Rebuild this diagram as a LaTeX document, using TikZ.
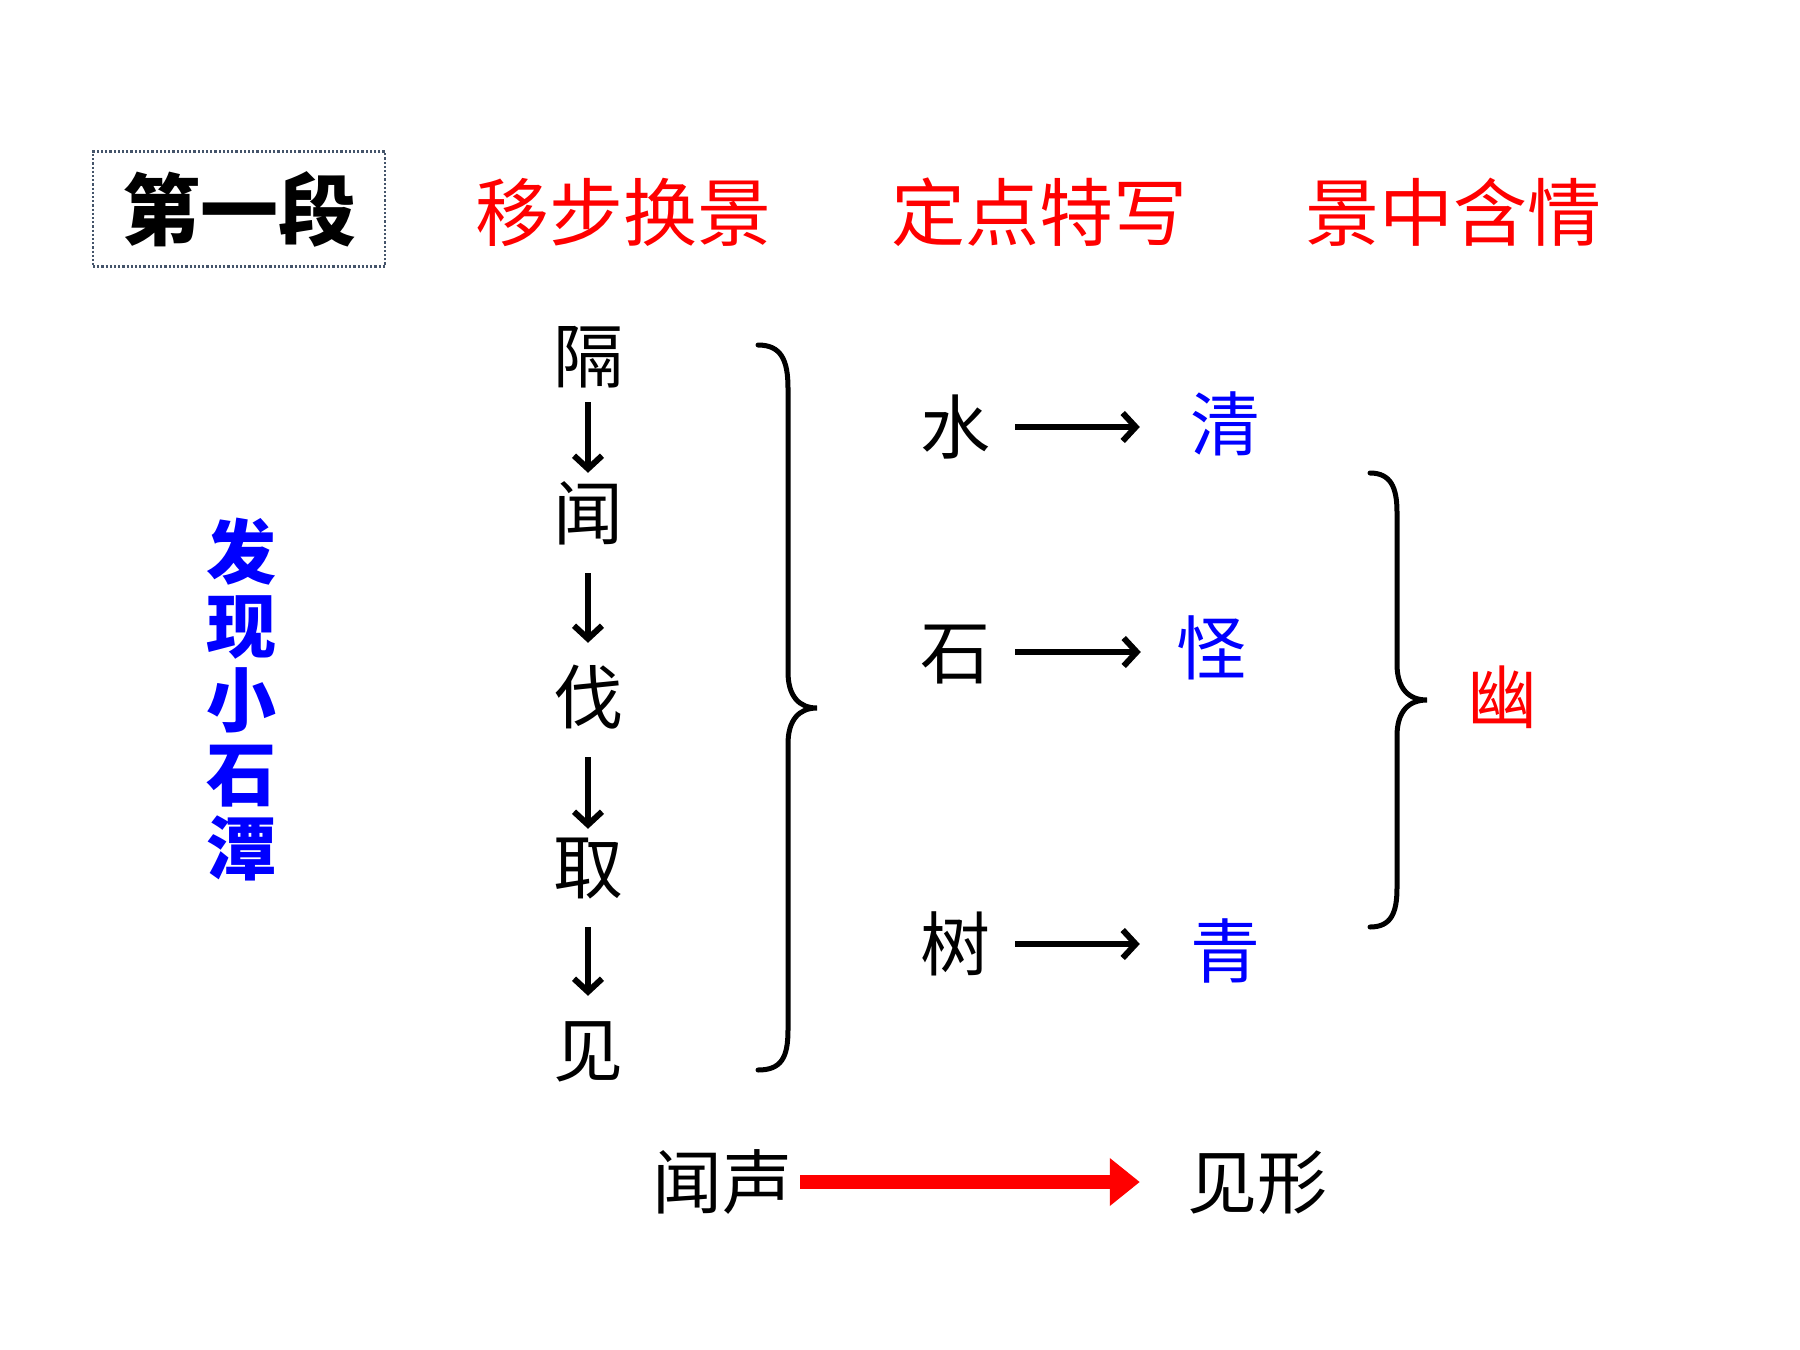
\documentclass[tikz,border=0pt]{standalone}
\usepackage{fontspec}
\setmainfont{Noto Sans CJK SC}
\usetikzlibrary{arrows.meta}
\definecolor{boxline}{HTML}{44546A}
\tikzset{
  cj/.style={inner sep=0pt, text height=61.6pt, text depth=8.4pt, font=\fontsize{70}{70}\selectfont},
  ttl/.style={inner sep=0pt, text height=65pt, text depth=9pt, font=\fontsize{74}{74}\selectfont, text=red},
  blu/.style={cj, text=blue},
  arr/.style={line width=6pt, -{Straight Barb[length=13pt,width=28pt,line width=6pt]}},
  brace/.style={line width=5pt, line cap=round},
  bigarr/.style={red, line width=14pt, -{Triangle[length=30pt,width=46pt]}}
}
\begin{document}
\begin{tikzpicture}[x=1pt,y=-1pt]
\useasboundingbox (0,0) rectangle (1800,1350);
% title row
\node[draw=boxline, dotted, line width=2.2pt, minimum width=292pt, minimum height=115pt, inner sep=0pt,
      font=\fontsize{78}{78}\selectfont\bfseries] (duan) at (239,209) {第一段};
\node[ttl] (t1) at (623,212) {移步换景};
\node[ttl] (t2) at (1039,212) {定点特写};
\node[ttl] (t3) at (1453,212) {景中含情};
% vertical blue text
\node[inner sep=0pt, align=center, text=blue, font=\fontsize{70}{74}\selectfont\bfseries] (fx) at (241,700) {发\\现\\小\\石\\潭};
% column
\node[cj] (ge) at (588,356) {隔};
\node[cj] (wen) at (588,513) {闻};
\node[cj] (fa) at (588,697) {伐};
\node[cj] (qu) at (588,867) {取};
\node[cj] (jian) at (588,1050) {见};
\draw[arr, shorten <=11pt, shorten >=5pt] (ge) -- (wen);
\draw[arr, shorten <=25pt, shorten >=19pt] (wen) -- (fa);
\draw[arr, shorten <=25pt, shorten >=3pt] (fa) -- (qu);
\draw[arr, shorten <=25pt, shorten >=19pt] (qu) -- (jian);
% first brace
\coordinate (b1) at (817,708);
\draw[brace] (758,345) .. controls (781,345) and (788,360) .. (788,388) -- (788,672)
  .. controls (788,696) and (799,708) .. (b1)
  .. controls (799,708) and (788,720) .. (788,744) -- (788,1030)
  .. controls (788,1058) and (781,1070) .. (758,1070);
% right column
\node[cj] (shui) at (955,427) {水};
\node[cj] (shi) at (955,652) {石};
\node[cj] (shu) at (955,944) {树};
\node[blu] (qing) at (1225,424) {清};
\node[blu] (guai) at (1211,648) {怪};
\node[blu] (qing2) at (1225,951) {青};
\draw[arr, shorten <=25pt, shorten >=50pt] (shui.east) -- (shui.east -| qing.west);
\draw[arr, shorten <=25pt, shorten >=35pt] (shi.east) -- (shi.east -| guai.west);
\draw[arr, shorten <=25pt, shorten >=50pt] (shu.east) -- (shu.east -| qing2.west);
% second brace
\coordinate (b2) at (1427,700);
\draw[brace] (1370,473) .. controls (1391,473) and (1397,488) .. (1397,512) -- (1397,664)
  .. controls (1397,689) and (1409,700) .. (b2)
  .. controls (1409,700) and (1397,711) .. (1397,736) -- (1397,888)
  .. controls (1397,913) and (1391,927) .. (1370,927);
\node[cj, text=red] (you) at (1502,697) {幽};
% bottom
\node[cj] (wensheng) at (722,1182) {闻声};
\node[cj] (jianxing) at (1257,1182) {见形};
\draw[bigarr, shorten <=8pt, shorten >=47pt] (wensheng.east) -- (jianxing.west);
\end{tikzpicture}
\end{document}
